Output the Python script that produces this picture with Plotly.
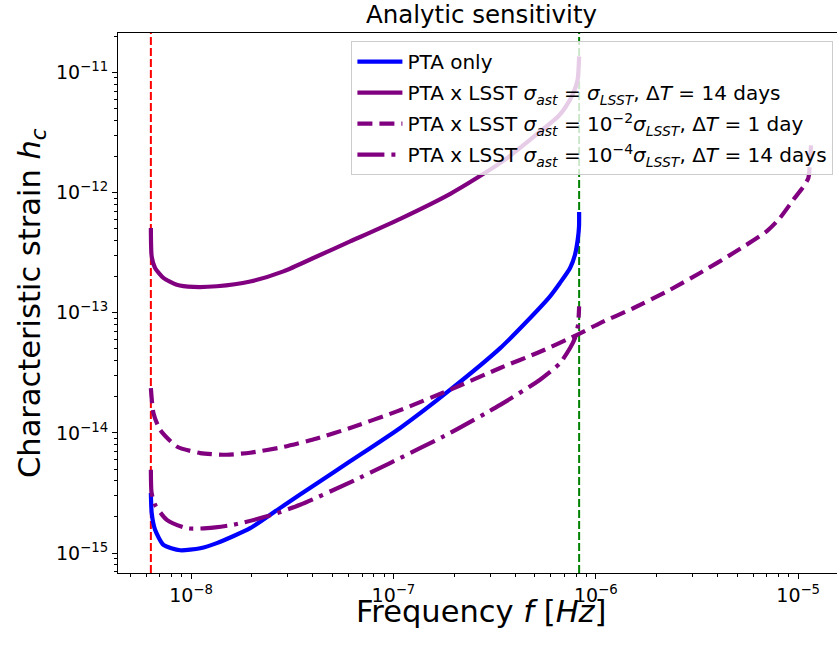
import numpy as np
import plotly.graph_objects as go

# ---- data ----
f_pta_min = 6.33e-9      # red dashed line (1 / 5 yr)
f_lsst_max = 8.27e-7     # green dashed line (1 / 14 days)

freq_pta = [6.33e-9, 6.39e-9, 6.64e-9, 7.30e-9, 8.83e-9, 1.11e-8, 1.34e-8, 1.96e-8, 2.86e-8,
            4.18e-8, 6.11e-8, 1.08e-7, 1.91e-7, 3.37e-7, 4.47e-7, 5.94e-7, 6.65e-7, 7.46e-7,
            7.89e-7, 8.14e-7, 8.26e-7, 8.27e-7]
hc_pta = [3.16e-15, 2.15e-15, 1.56e-15, 1.17e-15, 1.055e-15, 1.096e-15, 1.21e-15, 1.61e-15, 2.48e-15,
          3.79e-15, 5.80e-15, 1.10e-14, 2.29e-14, 5.08e-14, 8.18e-14, 1.37e-13, 1.77e-13, 2.36e-13,
          3.04e-13, 4.06e-13, 5.22e-13, 6.89e-13]

freq_lsst1 = [6.33e-9, 6.39e-9, 6.64e-9, 7.30e-9, 8.50e-9, 1.026e-8, 1.34e-8, 1.96e-8, 2.86e-8,
              4.18e-8, 6.11e-8, 1.08e-7, 1.91e-7, 2.58e-7, 3.56e-7, 4.73e-7, 6.53e-7, 7.05e-7,
              7.75e-7, 8.13e-7, 8.27e-7]
hc_lsst1 = [5.07e-13, 2.94e-13, 2.36e-13, 1.95e-13, 1.71e-13, 1.64e-13, 1.66e-13, 1.82e-13, 2.21e-13,
            2.94e-13, 3.92e-13, 6.05e-13, 9.77e-13, 1.32e-12, 1.88e-12, 2.75e-12, 4.31e-12, 5.08e-12,
            6.75e-12, 8.69e-12, 1.36e-11]

freq_lsst2 = [6.33e-9, 6.52e-9, 7.03e-9, 8.50e-9, 1.11e-8, 1.50e-8, 1.96e-8, 2.86e-8, 4.18e-8,
              6.11e-8, 1.04e-7, 1.91e-7, 3.37e-7, 5.30e-7, 8.27e-7, 1.05e-6, 1.53e-6, 2.24e-6,
              3.27e-6, 4.78e-6, 6.98e-6, 8.12e-6, 9.46e-6, 1.06e-5, 1.122e-5, 1.146e-5, 1.157e-5]
hc_lsst2 = [2.36e-14, 1.46e-14, 1.06e-14, 7.71e-15, 6.79e-15, 6.58e-15, 6.84e-15, 7.64e-15, 8.97e-15,
            1.10e-14, 1.51e-14, 2.29e-14, 3.47e-14, 4.73e-14, 6.68e-14, 8.20e-14, 1.09e-13, 1.50e-13,
            2.14e-13, 3.14e-13, 4.75e-13, 6.14e-13, 8.71e-13, 1.12e-12, 1.32e-12, 1.88e-12, 2.50e-12]

freq_lsst3 = [6.33e-9, 6.38e-9, 6.64e-9, 7.59e-9, 9.53e-9, 1.20e-8, 1.62e-8, 2.37e-8, 3.46e-8,
              6.11e-8, 9.62e-8, 1.91e-7, 3.37e-7, 5.30e-7, 6.65e-7, 7.46e-7, 7.89e-7, 8.17e-7, 8.27e-7]
hc_lsst3 = [4.93e-15, 3.18e-15, 2.52e-15, 1.89e-15, 1.61e-15, 1.61e-15, 1.72e-15, 2.02e-15, 2.52e-15,
            3.88e-15, 5.61e-15, 1.00e-14, 1.71e-14, 2.77e-14, 3.80e-14, 5.08e-14, 6.17e-14, 7.94e-14, 1.13e-13]

labels = [
    "PTA only",
    "PTA x LSST <i>σ</i><sub><i>ast</i></sub> = <i>σ</i><sub><i>LSST</i></sub>, Δ<i>T</i> = 14 days",
    "PTA x LSST <i>σ</i><sub><i>ast</i></sub> = 10<sup>−2</sup><i>σ</i><sub><i>LSST</i></sub>, Δ<i>T</i> = 1 day",
    "PTA x LSST <i>σ</i><sub><i>ast</i></sub> = 10<sup>−4</sup><i>σ</i><sub><i>LSST</i></sub>, Δ<i>T</i> = 14 days",
]

x_tickvals = [1e-8, 1e-7, 1e-6, 1e-5]
x_ticktext = ["10<sup>−8</sup>", "10<sup>−7</sup>", "10<sup>−6</sup>", "10<sup>−5</sup>"]
y_tickvals = [1e-15, 1e-14, 1e-13, 1e-12, 1e-11]
y_ticktext = ["10<sup>−15</sup>", "10<sup>−14</sup>", "10<sup>−13</sup>", "10<sup>−12</sup>", "10<sup>−11</sup>"]

x_minor = [m * 10.0 ** e for e in range(-9, -4) for m in range(2, 10)]
y_minor = [m * 10.0 ** e for e in range(-16, -10) for m in range(2, 10)]

FONT = "DejaVu Sans"
W, H = 837, 648
ML, MR, MT, MB = 118, 0, 33, 75
X_RANGE = [-8.361, -8 + (W - MR - 191) / 202.4]
Y_RANGE = [-15.166, -10.672]

fig = go.Figure()

# reference lines spanning the full axis height (drawn first, under the curves)
y_span = [10 ** Y_RANGE[0], 10 ** Y_RANGE[1]]
for fv, col in [(f_pta_min, "red"), (f_lsst_max, "green")]:
    fig.add_trace(go.Scatter(x=[fv, fv], y=y_span, mode="lines", showlegend=False, hoverinfo="skip",
                             line=dict(color=col, width=2, dash="8px,3px")))

series = [
    (freq_pta, hc_pta, "blue", "solid"),
    (freq_lsst1, hc_lsst1, "purple", "solid"),
    (freq_lsst2, hc_lsst2, "purple", "15px,7px"),
    (freq_lsst3, hc_lsst3, "purple", "27px,7px,4px,7px"),
]
for i, ((fx, hy, col, dash), name) in enumerate(zip(series, labels)):
    fig.add_trace(go.Scatter(x=fx, y=hy, mode="lines", name=name, legendgroup=f"g{i}",
                             line=dict(color=col, width=4.2, dash=dash, shape="spline", smoothing=0.6)))

axis_common = dict(
    type="log", showgrid=False, zeroline=False, showline=True, linecolor="black", linewidth=1.1,
    ticks="outside", ticklen=5, tickwidth=1.1, tickcolor="black",
    tickfont=dict(family=FONT, size=19, color="black"),
)
fig.update_xaxes(**axis_common, range=X_RANGE, mirror=True,
                 tickmode="array", tickvals=x_tickvals, ticktext=x_ticktext,
                 minor=dict(tickmode="array", tickvals=x_minor, ticks="outside", ticklen=3, tickwidth=0.8,
                            tickcolor="black", showgrid=False))
fig.update_yaxes(**axis_common, range=Y_RANGE,
                 tickmode="array", tickvals=y_tickvals, ticktext=y_ticktext,
                 minor=dict(tickmode="array", tickvals=y_minor, ticks="outside", ticklen=3, tickwidth=0.8,
                            tickcolor="black", showgrid=False))

pw = W - ML - MR
ph = H - MT - MB
fig.add_annotation(text="Frequency <i>f</i> [<i>Hz</i>]", xref="paper", yref="paper",
                   x=(481 - ML) / pw, y=-(611 - (H - MB)) / ph, xanchor="center", yanchor="middle",
                   showarrow=False, font=dict(family=FONT, size=30.5, color="black"))
fig.add_annotation(text="Characteristic strain <i>h</i><sub><i>c</i></sub>", xref="paper", yref="paper",
                   x=(31 - ML) / pw, y=0.5, xanchor="center", yanchor="middle", textangle=-90,
                   showarrow=False, font=dict(family=FONT, size=30.5, color="black"))

fig.update_layout(
    width=W, height=H, margin=dict(l=ML, r=MR, t=MT, b=MB),
    paper_bgcolor="white", plot_bgcolor="white",
    font=dict(family=FONT, color="black"),
    title=dict(text="Analytic sensitivity", x=(481.5 - ML) / pw, xref="paper", xanchor="center",
               y=1 - 14 / H, yref="container", yanchor="middle",
               font=dict(family=FONT, size=24.5, color="black")),
    legend=dict(x=0.995, y=0.985, xanchor="right", yanchor="top",
                bgcolor="rgba(255,255,255,0.8)", bordercolor="#cccccc", borderwidth=1,
                font=dict(family=FONT, size=20, color="black"), itemwidth=45,
                tracegroupgap=2),
    showlegend=True,
)

fig.write_html("out.html", config={"displayModeBar": False},
               post_script="document.body.style.margin='0px';")
